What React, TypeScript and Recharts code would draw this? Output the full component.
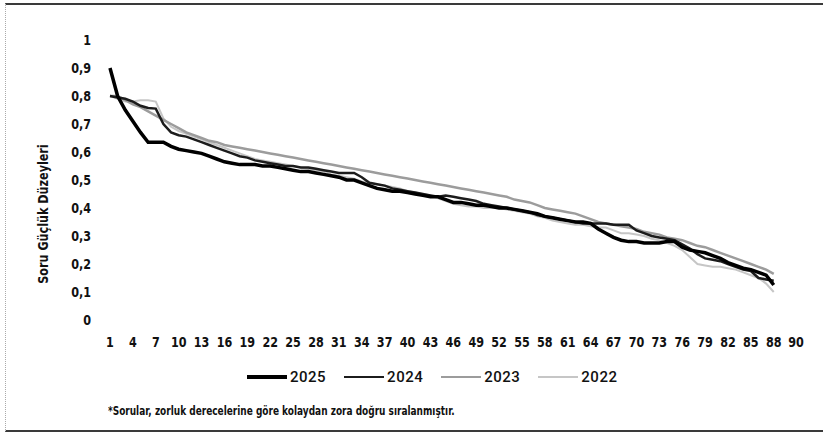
import React from 'react';
import { LineChart, Line, XAxis, YAxis, Label } from 'recharts';

const questions = Array.from({ length: 88 }, (_, i) => i + 1);

const xTicks = [1, 4, 7, 10, 13, 16, 19, 22, 25, 28, 31, 34, 37, 40, 43, 46, 49, 52, 55, 58, 61, 64, 67, 70, 73, 76, 79, 82, 85, 88, 90];
const yTicks = [0, 0.1, 0.2, 0.3, 0.4, 0.5, 0.6, 0.7, 0.8, 0.9, 1];

const s2025 = [
  0.9, 0.8, 0.75, 0.71, 0.67, 0.635, 0.635, 0.635, 0.62, 0.61,
  0.605, 0.6, 0.595, 0.585, 0.575, 0.565, 0.56, 0.555, 0.555, 0.555,
  0.55, 0.55, 0.545, 0.54, 0.535, 0.53, 0.53, 0.525, 0.52, 0.515,
  0.51, 0.5, 0.5, 0.49, 0.48, 0.47, 0.465, 0.46, 0.46, 0.455,
  0.45, 0.445, 0.44, 0.44, 0.43, 0.42, 0.42, 0.415, 0.41, 0.41,
  0.405, 0.4, 0.4, 0.395, 0.39, 0.385, 0.38, 0.37, 0.365, 0.36,
  0.355, 0.35, 0.35, 0.345, 0.325, 0.31, 0.295, 0.285, 0.28, 0.28,
  0.275, 0.275, 0.275, 0.28, 0.28, 0.26, 0.25, 0.245, 0.24, 0.23,
  0.22, 0.205, 0.195, 0.185, 0.18, 0.17, 0.16, 0.125,
];

const s2024 = [
  0.8, 0.795, 0.79, 0.78, 0.765, 0.757, 0.755, 0.7, 0.67, 0.66,
  0.655, 0.645, 0.635, 0.625, 0.615, 0.605, 0.595, 0.585, 0.58, 0.57,
  0.565, 0.56, 0.555, 0.55, 0.55, 0.545, 0.545, 0.54, 0.535, 0.53,
  0.525, 0.525, 0.525, 0.51, 0.49, 0.485, 0.48, 0.47, 0.465, 0.46,
  0.455, 0.45, 0.445, 0.44, 0.445, 0.44, 0.435, 0.43, 0.425, 0.415,
  0.41, 0.405, 0.4, 0.395, 0.39, 0.385, 0.375, 0.37, 0.365, 0.36,
  0.355, 0.35, 0.345, 0.345, 0.345, 0.345, 0.34, 0.34, 0.34, 0.32,
  0.31, 0.3, 0.295, 0.29, 0.285, 0.27, 0.255, 0.235, 0.22, 0.215,
  0.21, 0.2, 0.19, 0.18, 0.175, 0.15, 0.145, 0.14,
];

const s2023 = [
  0.8, 0.8, 0.785, 0.77, 0.76, 0.745, 0.73, 0.715, 0.7, 0.685,
  0.67, 0.66, 0.65, 0.64, 0.635, 0.625, 0.62, 0.615, 0.61, 0.605,
  0.6, 0.595, 0.59, 0.585, 0.58, 0.575, 0.57, 0.565, 0.56, 0.555,
  0.55, 0.545, 0.54, 0.535, 0.53, 0.525, 0.52, 0.515, 0.51, 0.505,
  0.5, 0.495, 0.49, 0.485, 0.48, 0.475, 0.47, 0.465, 0.46, 0.455,
  0.45, 0.445, 0.44, 0.43, 0.425, 0.42, 0.41, 0.4, 0.395, 0.39,
  0.385, 0.38, 0.37, 0.36, 0.35, 0.345, 0.34, 0.335, 0.33, 0.325,
  0.315, 0.31, 0.305, 0.295, 0.29, 0.285, 0.275, 0.265, 0.26, 0.25,
  0.24, 0.23, 0.22, 0.21, 0.2, 0.19, 0.18, 0.165,
];

const s2022 = [
  0.8, 0.79, 0.78, 0.78, 0.785, 0.785, 0.78, 0.72, 0.69, 0.675,
  0.665, 0.655, 0.645, 0.635, 0.625, 0.615, 0.605, 0.595, 0.585, 0.575,
  0.57, 0.565, 0.56, 0.555, 0.55, 0.545, 0.54, 0.535, 0.53, 0.52,
  0.515, 0.51, 0.505, 0.495, 0.49, 0.485, 0.48, 0.475, 0.47, 0.46,
  0.455, 0.45, 0.445, 0.435, 0.425, 0.415, 0.41, 0.405, 0.405, 0.4,
  0.4, 0.4, 0.395, 0.39, 0.385, 0.38, 0.37, 0.365, 0.355, 0.35,
  0.345, 0.34, 0.34, 0.335, 0.33, 0.33, 0.32, 0.31, 0.31, 0.305,
  0.3, 0.29, 0.285, 0.275, 0.265, 0.25, 0.225, 0.2, 0.195, 0.19,
  0.19, 0.185, 0.18, 0.17, 0.16, 0.15, 0.13, 0.1,
];

const series = [
  { key: 'y2025', name: '2025', color: '#000000', width: 3.5 },
  { key: 'y2024', name: '2024', color: '#1c1c1c', width: 2.5 },
  { key: 'y2023', name: '2023', color: '#9c9c9c', width: 2.5 },
  { key: 'y2022', name: '2022', color: '#c6c6c6', width: 2 },
];

const data = questions.map((q, i) => ({
  q,
  y2025: s2025[i],
  y2024: s2024[i],
  y2023: s2023[i],
  y2022: s2022[i],
}));

const font = '"DejaVu Sans", sans-serif';
// no condensed face installed, so squeeze the glyphs horizontally instead
const SQUEEZE = 0.8;

const fmt = (v: number) => String(v).replace('.', ',');
const lastX = xTicks[xTicks.length - 1];

const NarrowTick = (props: any) => {
  const { x, y, payload, textAnchor, verticalAnchor } = props;
  const dy = verticalAnchor === 'start' ? '0.71em' : verticalAnchor === 'end' ? '0' : '0.355em';
  // last x label sits a little apart from "88" so the two stay readable
  const nudge = verticalAnchor === 'start' && payload.value === lastX ? 7 : 0;
  return (
    <g transform={`translate(${x + nudge},${y})`}>
      <text
        transform={`scale(${SQUEEZE},1)`}
        textAnchor={textAnchor}
        dy={dy}
        fill="#111"
        fontSize={14}
        fontWeight={700}
        fontFamily={font}
      >
        {fmt(payload.value)}
      </text>
    </g>
  );
};

const YTitle = (props: any) => {
  const vb = props.viewBox || { x: 0, y: 0, width: 0, height: 0 };
  const cx = vb.x + 43;
  const cy = vb.y + vb.height / 2 + 34;
  return (
    <g transform={`translate(${cx},${cy}) rotate(-90) scale(${SQUEEZE},1)`}>
      <text
        textAnchor="middle"
        dy="0.355em"
        fill="#111"
        fontSize={14}
        fontWeight={700}
        fontFamily={font}
      >
        Soru Güçlük Düzeyleri
      </text>
    </g>
  );
};

export default function App() {
  // draw the grey years first so the black ones sit on top
  const drawOrder = [...series].reverse();

  return (
    <div style={{ position: 'absolute', left: 0, top: 0, width: 823, height: 432, background: '#fff' }}>
      <div
        style={{
          position: 'absolute',
          left: 5,
          top: 3,
          width: 818,
          height: 425,
          borderTop: '2px solid #3a3a3a',
          borderBottom: '2px solid #3a3a3a',
          borderLeft: '1px dotted #aaa',
        }}
      />
      <LineChart width={823} height={432} data={data} margin={{ top: 40, right: 34, left: 0, bottom: 82 }}>
        <XAxis
          dataKey="q"
          type="number"
          domain={[1, 90]}
          ticks={xTicks}
          interval={0}
          axisLine={false}
          tickLine={false}
          tickSize={0}
          tickMargin={17}
          tick={<NarrowTick />}
          height={30}
        />
        <YAxis
          type="number"
          domain={[0, 1]}
          ticks={yTicks}
          interval={0}
          axisLine={false}
          tickLine={false}
          tickSize={0}
          tickMargin={19}
          width={110}
          tick={<NarrowTick />}
        >
          <Label content={<YTitle />} />
        </YAxis>
        {drawOrder.map((s) => (
          <Line
            key={s.key}
            type="linear"
            dataKey={s.key}
            name={s.name}
            stroke={s.color}
            strokeWidth={s.width}
            dot={false}
            activeDot={false}
            isAnimationActive={false}
          />
        ))}
      </LineChart>
      <div
        style={{
          position: 'absolute',
          left: 247,
          top: 368,
          display: 'flex',
          alignItems: 'center',
          gap: 18,
          fontFamily: 'Roboto, sans-serif',
          fontSize: 15,
          fontWeight: 500,
          color: '#111',
          letterSpacing: 0.5,
        }}
      >
        {series.map((s) => (
          <div key={s.key} style={{ display: 'flex', alignItems: 'center', gap: 3 }}>
            <div style={{ width: 40, height: s.width, background: s.color }} />
            <span>{s.name}</span>
          </div>
        ))}
      </div>
      <div
        style={{
          position: 'absolute',
          left: 108,
          top: 404,
          fontFamily: font,
          fontSize: 11.5,
          fontWeight: 700,
          color: '#111',
          whiteSpace: 'nowrap',
          transform: 'scaleX(0.78)',
          transformOrigin: 'left top',
        }}
      >
        *Sorular, zorluk derecelerine göre kolaydan zora doğru sıralanmıştır.
      </div>
    </div>
  );
}
